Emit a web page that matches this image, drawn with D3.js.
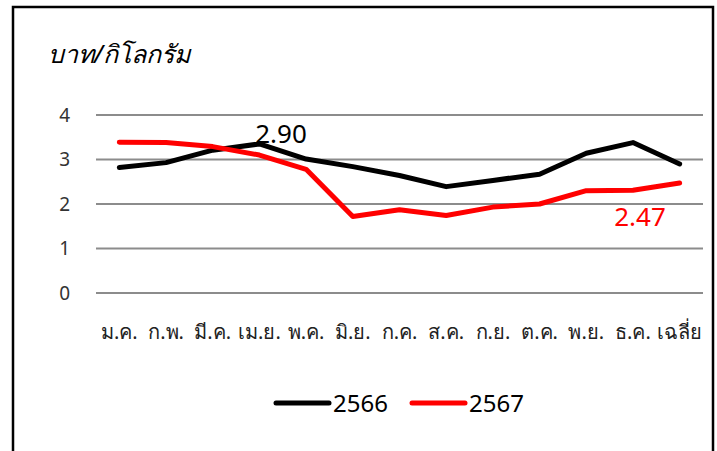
<!DOCTYPE html>
<html>
<head>
	<meta charset="utf-8">
	<title>chart</title>
	<script type="text/javascript" src="https://cdn.jsdelivr.net/npm/d3@7"></script>
	<style>
		body { margin: 0; background: #fff; }
		text { font-family: 'Noto Sans', 'DejaVu Sans', sans-serif; }
	</style>
</head>
<body>
	<script type="text/javascript">
		var width = 717,
			height = 451;

		var months = ['ม.ค.', 'ก.พ.', 'มี.ค.', 'เม.ย.', 'พ.ค.', 'มิ.ย.', 'ก.ค.', 'ส.ค.', 'ก.ย.', 'ต.ค.', 'พ.ย.', 'ธ.ค.', 'เฉลี่ย'];
		var y2566 = [2.82, 2.93, 3.21, 3.35, 3.01, 2.84, 2.64, 2.39, 2.53, 2.67, 3.14, 3.38, 2.90];
		var y2567 = [3.39, 3.38, 3.29, 3.10, 2.78, 1.72, 1.87, 1.74, 1.93, 2.00, 2.30, 2.31, 2.47];
		var yTicks = [0, 1, 2, 3, 4];
		var seriesNames = ['2566', '2567'];

		var svg = d3.select('body')
					.append('svg')
					.attr('width', width)
					.attr('height', height);

		// frame
		svg.append('rect')
			.attr('x', 13).attr('y', 7)
			.attr('width', 700).attr('height', 460)
			.attr('fill', 'none')
			.attr('stroke', '#000')
			.attr('stroke-width', 2.5);

		var x = d3.scaleBand()
					.domain(months)
					.range([96, 703]);
		var y = d3.scaleLinear()
					.domain([0, 4])
					.range([293, 115]);

		// gridlines
		svg.append('g')
			.selectAll('line')
			.data(yTicks)
			.enter()
			.append('line')
			.attr('x1', 96).attr('x2', 703)
			.attr('y1', function(d){ return y(d); })
			.attr('y2', function(d){ return y(d); })
			.attr('stroke', '#8c8c8c')
			.attr('stroke-width', 2);

		// y labels
		var yAxis = d3.axisLeft(y).tickValues(yTicks).tickFormat(d3.format('d')).tickSize(0).tickPadding(0);
		var gy = svg.append('g').attr('transform', 'translate(70,0)').call(yAxis);
		gy.select('.domain').remove();
		gy.selectAll('text').attr('font-size', 19).attr('fill', '#333').attr('font-family', null);

		// x labels
		var xAxis = d3.axisBottom(x).tickSize(0).tickPadding(0);
		var gx = svg.append('g').attr('transform', 'translate(0,325)').call(xAxis);
		gx.select('.domain').remove();
		gx.selectAll('text').attr('font-size', 20).attr('fill', '#222').attr('font-family', null);

		// title
		svg.append('text')
			.attr('x', 48).attr('y', 63)
			.attr('font-size', 25)
			.attr('font-style', 'italic')
			.text('บาท/กิโลกรัม');

		var line = d3.line()
					.x(function(d, i){ return x(months[i]) + x.bandwidth() / 2; })
					.y(function(d){ return y(d); });

		var colors = ['#000', '#ff0000'];
		[y2566, y2567].forEach(function(data, k){
			svg.append('path')
				.datum(data)
				.attr('d', line)
				.attr('fill', 'none')
				.attr('stroke', colors[k])
				.attr('stroke-width', 5)
				.attr('stroke-linejoin', 'round')
				.attr('stroke-linecap', 'round');
		});

		// data labels for the average
		var last = months.length - 1;
		svg.append('text')
			.attr('x', 281).attr('y', 143)
			.attr('text-anchor', 'middle')
			.attr('font-size', 26)
			.attr('fill', '#000')
			.text(y2566[last].toFixed(2));
		svg.append('text')
			.attr('x', 640).attr('y', 226)
			.attr('text-anchor', 'middle')
			.attr('font-size', 26)
			.attr('fill', '#ff0000')
			.text(y2567[last].toFixed(2));

		// legend
		var legend = svg.append('g');
		seriesNames.forEach(function(name, k){
			var lx = 276 + k * 136;
			legend.append('line')
				.attr('x1', lx).attr('x2', lx + 53)
				.attr('y1', 403).attr('y2', 403)
				.attr('stroke', colors[k])
				.attr('stroke-width', 5)
				.attr('stroke-linecap', 'round');
			legend.append('text')
				.attr('x', lx + 57).attr('y', 412)
				.attr('font-size', 24)
				.text(name);
		});
	</script>
</body>
</html>
